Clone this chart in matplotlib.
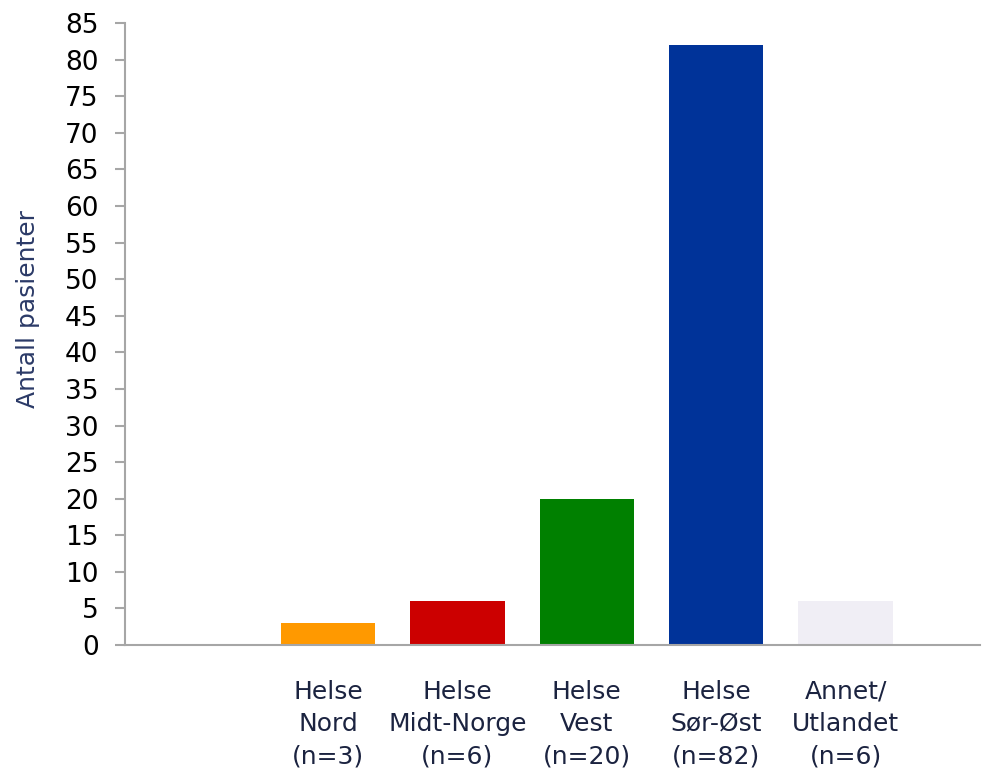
import matplotlib
matplotlib.use("Agg")
import matplotlib.pyplot as plt

# data
regions = ["Helse\nNord\n(n=3)", "Helse\nMidt-Norge\n(n=6)", "Helse\nVest\n(n=20)",
           "Helse\nSør-Øst\n(n=82)", "Annet/\nUtlandet\n(n=6)"]
patients = [3, 6, 20, 82, 6]
bar_colors = ["#ff9900", "#cc0000", "#008000", "#003399", "#f0eef5"]
yticks = list(range(0, 90, 5))

fig = plt.figure(figsize=(9.82, 7.73), dpi=100)
ax = fig.add_axes([0.1273, 0.1656, 0.8707, 0.8044])

# first category slot is left empty in the original
positions = [i + 1 for i in range(len(regions))]
ax.bar(positions, patients, width=0.73, color=bar_colors)

ax.set_xlim(-0.57, 6.04)
ax.set_ylim(0, 85)
ax.set_yticks(yticks)
ax.set_xticks(positions)
ax.set_xticklabels(regions, fontsize=18, color="#1b2340", linespacing=1.45)

for s in ["top", "right"]:
    ax.spines[s].set_visible(False)
for s in ["left", "bottom"]:
    ax.spines[s].set_color("#a6a6a6")
    ax.spines[s].set_linewidth(1.5)

ax.tick_params(axis="y", length=7, width=1.5, color="#a6a6a6", labelsize=19,
               labelcolor="black", pad=12)
ax.tick_params(axis="x", length=0, pad=25)

ax.set_ylabel("Antall pasienter", fontsize=18, color="#2b3a67")
ax.yaxis.set_label_coords(-0.1, 0.54)

fig.savefig("out.png", dpi=100)
